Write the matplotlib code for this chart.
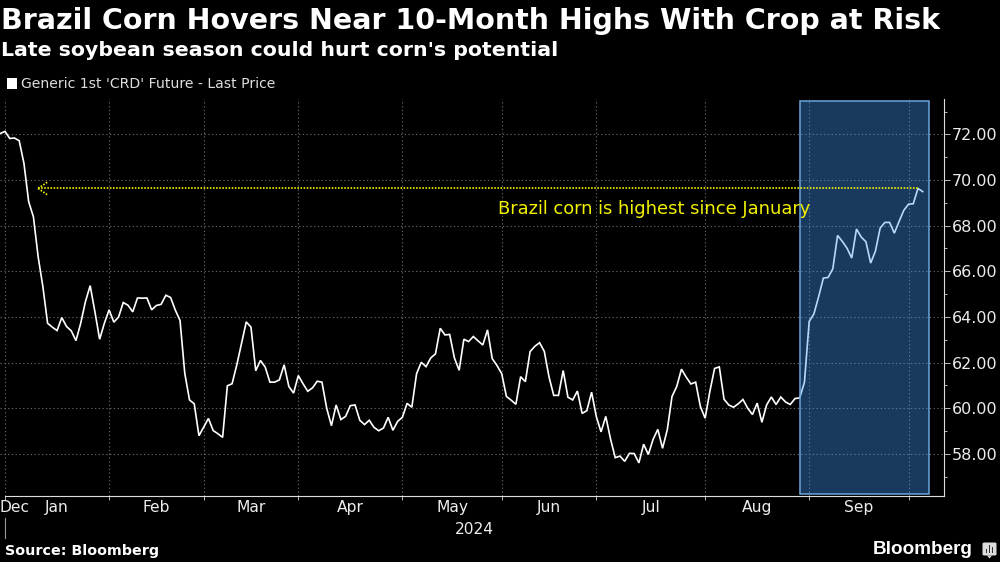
import numpy as np
import matplotlib
matplotlib.use("Agg")
import matplotlib.pyplot as plt
from matplotlib.patches import Rectangle, FancyBboxPatch, Polygon

W, H = 1000, 562

# Generic 1st 'CRD' future, last price, one value per trading day
prices = [
    72.04, 72.13, 71.82, 71.84, 71.72, 70.73, 69.05, 68.39, 66.64, 65.33,
    63.72, 63.55, 63.40, 63.97, 63.58, 63.39, 62.96, 63.72, 64.67, 65.37,
    64.23, 63.02, 63.72, 64.31, 63.77, 63.99, 64.63, 64.51, 64.22, 64.83,
    64.82, 64.83, 64.31, 64.50, 64.55, 64.95, 64.85, 64.30, 63.84, 61.53,
    60.36, 60.19, 58.79, 59.17, 59.55, 59.02, 58.88, 58.72, 60.98, 61.07,
    61.90, 62.85, 63.78, 63.55, 61.64, 62.09, 61.80, 61.14, 61.14, 61.24,
    61.90, 60.95, 60.66, 61.43, 61.07, 60.74, 60.89, 61.18, 61.14, 60.00,
    59.23, 60.14, 59.50, 59.64, 60.11, 60.14, 59.47, 59.28, 59.47, 59.16,
    59.01, 59.13, 59.60, 59.03, 59.42, 59.60, 60.21, 60.04, 61.51, 62.01,
    61.82, 62.20, 62.38, 63.50, 63.21, 63.23, 62.20, 61.66, 63.02, 62.92,
    63.14, 62.95, 62.77, 63.43, 62.17, 61.87, 61.51, 60.51, 60.35, 60.17,
    61.38, 61.16, 62.48, 62.71, 62.87, 62.49, 61.37, 60.56, 60.56, 61.65,
    60.48, 60.36, 60.75, 59.77, 59.89, 60.70, 59.63, 58.96, 59.64, 58.65,
    57.83, 57.90, 57.67, 58.02, 58.01, 57.60, 58.42, 57.97, 58.63, 59.07,
    58.24, 59.05, 60.51, 60.95, 61.71, 61.36, 61.06, 61.14, 60.07, 59.56,
    60.73, 61.74, 61.81, 60.39, 60.14, 60.04, 60.19, 60.38, 60.00, 59.72,
    60.22, 59.38, 60.14, 60.49, 60.16, 60.49, 60.27, 60.16, 60.42, 60.45,
    61.14, 63.80, 64.13, 64.89, 65.70, 65.73, 66.11, 67.57, 67.31, 67.01,
    66.58, 67.85, 67.50, 67.29, 66.36, 66.88, 67.89, 68.14, 68.14, 67.67,
    68.18, 68.67, 68.94, 68.96, 69.63, 69.49,
]
# first trading day of each month, counted from the start of the series
month_starts = [1, 23, 43, 63, 85, 106, 126, 149, 171, 192]
month_names = ["Jan", "Feb", "Mar", "Apr", "May", "Jun", "Jul", "Aug", "Sep"]
y_major = [58, 60, 62, 64, 66, 68, 70, 72]
y_minor = [57, 59, 61, 63, 65, 67, 69, 71, 73]
highlight_start, highlight_end = 169, 196.3
peak_idx = 194
arrow_end_idx = 8

YELLOW = "#f2f200"
GRID = "#626262"
TICK_TXT = "#ececec"


def px_text(fig, x, y, s, **kw):
    # pixel coords from the top left corner of the image
    return fig.text(x / W, 1 - y / H, s, **kw)


fig = plt.figure(figsize=(W / 100, H / 100), dpi=100, facecolor="black")
plt.rcParams["font.family"] = ["DejaVu Sans"]

ax = fig.add_axes([0, 1 - 496 / H, 944 / W, (496 - 99) / H], facecolor="black")
ax.set_xlim(-0.06, 199.5)
ax.set_ylim(56.15, 73.55)

days = np.arange(len(prices))
ax.plot(days, prices, color="white", lw=1.2, solid_joinstyle="miter", zorder=3)

# grid and ticks (lengths are in points, 0.72 pt per pixel)
ax.set_xticks(month_starts)
ax.set_xticklabels([])
ax.set_yticks(y_major)
ax.set_yticks(y_minor, minor=True)
ax.yaxis.tick_right()
ax.set_yticklabels([f"{v:.2f}" for v in y_major], color=TICK_TXT, fontsize=11.5)
ax.grid(True, which="major", color=GRID, lw=0.8, ls=(0, (1.2, 2.2)), zorder=1)
ax.tick_params(axis="y", which="major", length=4, width=0.7, color="#bbbbbb", pad=1.6)
ax.tick_params(axis="y", which="minor", length=2.4, width=0.7, color="#bbbbbb")
ax.tick_params(axis="x", which="major", length=3, width=0.7, color="#bbbbbb")
for side in ["top", "left"]:
    ax.spines[side].set_visible(False)
for side in ["right", "bottom"]:
    ax.spines[side].set_color("#dddddd")
    ax.spines[side].set_linewidth(0.8)
ax.spines["bottom"].set_bounds(month_starts[0], 199.5)

# highlighted window
y0, y1 = 56.23, 73.46
ax.add_patch(Rectangle((highlight_start, y0), highlight_end - highlight_start, y1 - y0,
                       fc=(68 / 255, 153 / 255, 250 / 255, 0.38), ec="none", zorder=4))
ax.add_patch(Rectangle((highlight_start, y0), highlight_end - highlight_start, y1 - y0,
                       fc="none", ec="#6aa5dc", lw=1.1, zorder=5))

# yellow dotted arrow and note
peak = prices[peak_idx]
dots = (0, (0.9, 0.9))
ax.plot([arrow_end_idx, peak_idx], [peak, peak], color=YELLOW, lw=1.25, ls=dots, zorder=6)
for dy in (-0.3, 0.3):
    ax.plot([arrow_end_idx, arrow_end_idx + 2.1], [peak, peak + dy], color=YELLOW, lw=1.25,
            ls=dots, zorder=6)
px_text(fig, 654, 209, "Brazil corn is highest since January", color=YELLOW,
        fontsize=12.9, ha="center", va="center", zorder=7)

# month labels
trans = ax.get_xaxis_transform()
for name, a, b in zip(month_names, month_starts[:-1], month_starts[1:]):
    ax.text((a + b) / 2, -0.03, name, transform=trans, color=TICK_TXT, fontsize=11.2,
            ha="center", va="center")
ax.text(3.1, -0.03, "Dec", transform=trans, color=TICK_TXT, fontsize=11.2,
        ha="center", va="center")
px_text(fig, 474, 529, "2024", color=TICK_TXT, fontsize=11.2, ha="center", va="center")
fig.add_artist(plt.Line2D([5 / W, 5 / W], [1 - 518 / H, 1 - 538 / H], color="#999999", lw=0.8))

# titles
px_text(fig, 1, 21, "Brazil Corn Hovers Near 10-Month Highs With Crop at Risk", color="white",
        fontsize=20.55, fontweight="bold", ha="left", va="center")
px_text(fig, 1, 50, "Late soybean season could hurt corn's potential", color="white",
        fontsize=14.72, fontweight="bold", ha="left", va="center")

# legend
fig.add_artist(Rectangle((7 / W, 1 - 88.5 / H), 10 / W, 10 / H, fc="white", ec="none",
                         transform=fig.transFigure))
px_text(fig, 21, 84.5, "Generic 1st 'CRD' Future - Last Price", color="#dddddd",
        fontsize=10.05, ha="left", va="center")

# footer
px_text(fig, 5, 551, "Source: Bloomberg", color="white", fontsize=10.3, fontweight="bold",
        ha="left", va="center")
px_text(fig, 973, 550, "Bloomberg", color="white", fontsize=13.6, fontweight="bold",
        family="Liberation Sans", ha="right", va="center")

# logo mark
fig.add_artist(FancyBboxPatch((982.5 / W, 1 - 555.5 / H), 14 / W, 13 / H,
                              boxstyle="round,pad=0,rounding_size=0.002",
                              fc="#dddddd", ec="none", transform=fig.transFigure))
fig.add_artist(Polygon([(987 / W, 1 - 555.5 / H), (992 / W, 1 - 555.5 / H), (989.5 / W, 1 - 558.5 / H)],
                       fc="#dddddd", ec="none", transform=fig.transFigure))
for bx, bh in zip([985.5, 988.5, 991.5], [4, 8, 6]):
    fig.add_artist(Rectangle((bx / W, 1 - 553 / H), 1.6 / W, bh / H, fc="#333333", ec="none",
                             transform=fig.transFigure))

fig.savefig("out.png", dpi=100, facecolor="black")
